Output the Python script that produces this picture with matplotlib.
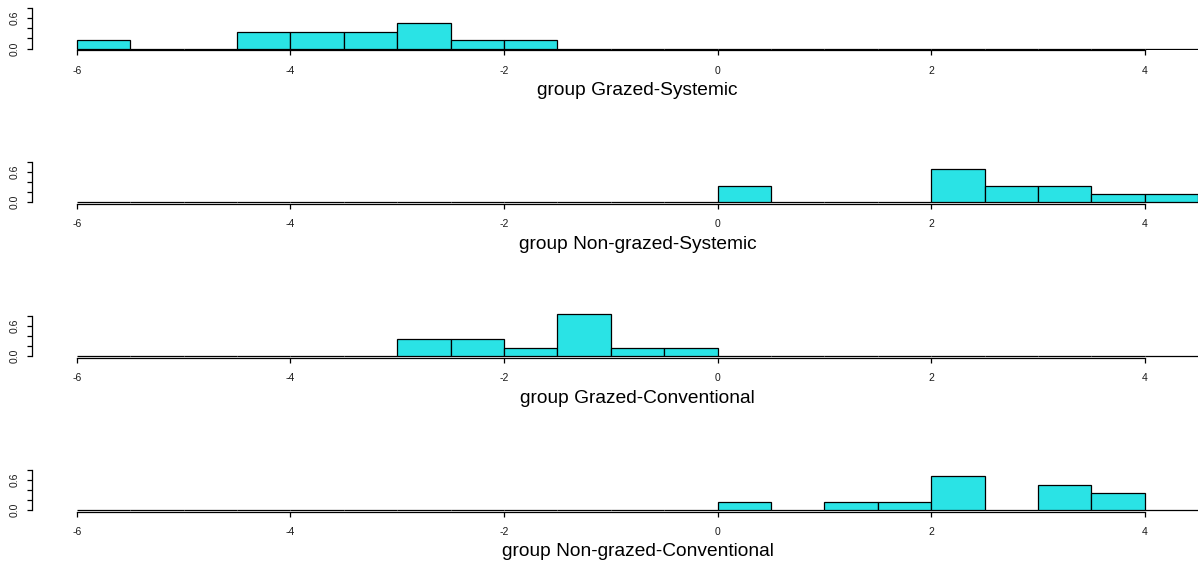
import matplotlib
matplotlib.use("Agg")
import matplotlib.pyplot as plt
import numpy as np

plt.rcParams['font.family'] = ['Liberation Sans', 'DejaVu Sans']

# histogram breaks shared by all groups (width 0.5)
breaks = np.arange(-6.0, 4.51, 0.5)

groups = ['Grazed-Systemic', 'Non-grazed-Systemic',
          'Grazed-Conventional', 'Non-grazed-Conventional']

# counts per bin, one entry per bin between consecutive breaks
counts_grazed_sys = [1, 0, 0, 2, 2, 2, 3, 1, 1, 0, 0, 0, 0, 0, 0, 0, 0, 0, 0, 0, 0]
counts_nongrazed_sys = [0, 0, 0, 0, 0, 0, 0, 0, 0, 0, 0, 0, 2, 0, 0, 0, 4, 2, 2, 1, 1]
counts_grazed_conv = [0, 0, 0, 0, 0, 0, 2, 2, 1, 5, 1, 1, 0, 0, 0, 0, 0, 0, 0, 0, 0]
counts_nongrazed_conv = [0, 0, 0, 0, 0, 0, 0, 0, 0, 0, 0, 0, 1, 0, 1, 1, 4, 0, 3, 2, 0]

all_counts = [counts_grazed_sys, counts_nongrazed_sys,
              counts_grazed_conv, counts_nongrazed_conv]

x_ticks = [-6, -4, -2, 0, 2, 4]
y_ticks = [0.0, 0.2, 0.4, 0.6, 0.8]
y_ticklabels = ['0.0', '', '', '0.6', '']

W, H = 1198, 563
fig = plt.figure(figsize=(W / 100, H / 100), dpi=100)

bin_w = breaks[1] - breaks[0]
densities = [np.array(c) / (sum(c) * bin_w) for c in all_counts]
ymax = max(d.max() for d in densities)
ylo, yhi = -0.04 * ymax, 1.04 * ymax
xlo = breaks[0] - 0.04 * (breaks[-1] - breaks[0])
xhi = breaks[-1] + 0.04 * (breaks[-1] - breaks[0])

px_per_unit_y = 50.4
left_px, right_px = 32, 1243
for i, (name, dens) in enumerate(zip(groups, densities)):
    base = 48.5 + 153.8 * i
    top_px = base - yhi * px_per_unit_y
    bot_px = base - ylo * px_per_unit_y
    ax = fig.add_axes([left_px / W, 1 - bot_px / H,
                       (right_px - left_px) / W, (bot_px - top_px) / H])
    ax.bar(breaks[:-1], dens, width=bin_w, align='edge', color='#2ae3e5',
           edgecolor='black', linewidth=0.9)
    ax.set_xlim(xlo, xhi)
    ax.set_ylim(ylo, yhi)
    for s in ['top', 'right']:
        ax.spines[s].set_visible(False)
    ax.spines['left'].set_bounds(0, 0.8)
    ax.spines['bottom'].set_bounds(-6, 4)
    for s in ['left', 'bottom']:
        ax.spines[s].set_linewidth(0.9)
    ax.set_xticks(x_ticks)
    ax.set_xticklabels([str(t) for t in x_ticks])
    ax.set_yticks(y_ticks)
    ax.set_yticklabels(y_ticklabels, rotation=90, va='center')
    ax.tick_params(axis='x', length=3.6, width=0.9, pad=7.5, labelsize=7.5,
                   labelcolor='#1a1a1a')
    ax.tick_params(axis='y', length=3.6, width=0.9, pad=5.5, labelsize=7.5,
                   labelcolor='#1a1a1a')
    ax.patch.set_visible(False)
    ax.annotate('group ' + name, xy=(0.5, 0), xycoords='axes fraction',
                xytext=(0, -29), textcoords='offset points',
                ha='center', va='center', fontsize=13.8)

fig.savefig('out.png', dpi=100)
